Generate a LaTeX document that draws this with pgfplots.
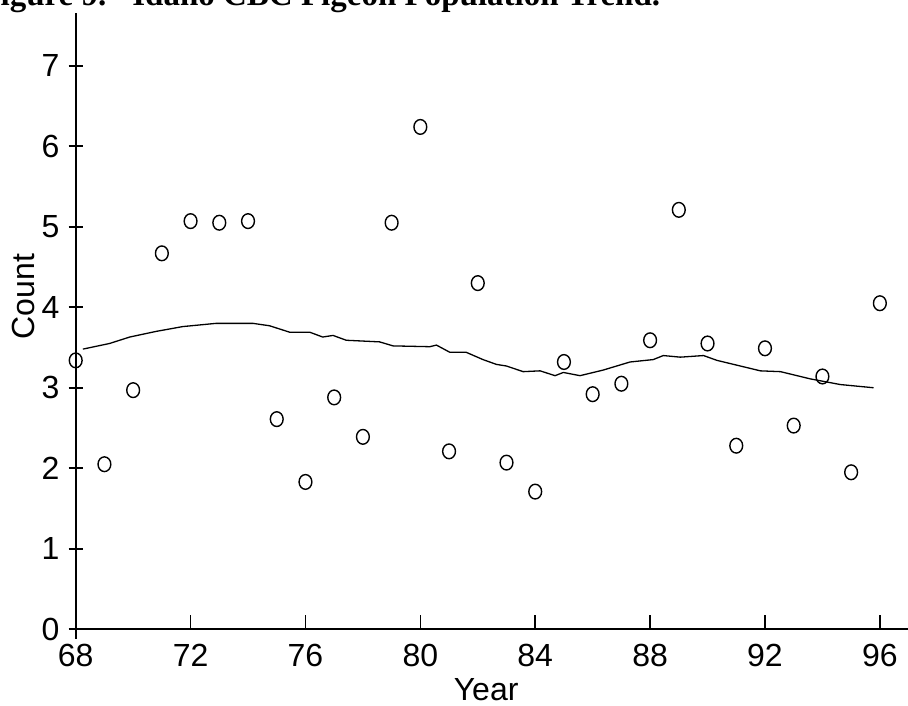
\documentclass[border=0pt]{standalone}
\usepackage{fontspec}
\setmainfont{Liberation Sans}
\newfontfamily\titlefont{Liberation Serif}
\usepackage{pgfplots}
\usepackage{pgfplotstable}
\pgfplotsset{compat=1.18}

% Christmas Bird Count: yearly pigeon counts
\pgfplotstableread{
year count
68 3.34
69 2.05
70 2.97
71 4.67
72 5.07
73 5.05
74 5.07
75 2.61
76 1.83
77 2.88
78 2.39
79 5.05
80 6.24
81 2.21
82 4.30
83 2.07
84 1.71
85 3.32
86 2.92
87 3.05
88 3.59
89 5.21
90 3.55
91 2.28
92 3.49
93 2.53
94 3.14
95 1.95
96 4.05
}\counts

% smoothed trend
\pgfplotstableread{
year trend
68.25 3.48
69.18 3.55
69.88 3.63
70.80 3.70
71.73 3.76
72.89 3.80
74.17 3.80
74.75 3.77
75.45 3.69
76.15 3.69
76.60 3.63
76.96 3.65
77.42 3.59
78.58 3.57
79.05 3.52
80.33 3.51
80.56 3.53
81.03 3.44
81.60 3.44
82.18 3.35
82.65 3.29
83.00 3.27
83.58 3.20
84.17 3.21
84.69 3.15
84.98 3.19
85.56 3.15
86.37 3.22
87.30 3.32
88.11 3.35
88.46 3.40
89.05 3.38
89.86 3.40
90.33 3.34
91.84 3.21
92.54 3.20
93.58 3.11
94.62 3.04
95.20 3.02
95.78 3.00
}\trend

\begin{document}
\begin{tikzpicture}
\begin{axis}[
  x=14.36pt, y=40.25pt,
  xmin=68, xmax=97, ymin=0, ymax=7.656,
  axis lines*=left,
  axis line style={line width=0.8pt, black},
  clip=false,
  xtick={68,72,...,96},
  ytick={0,1,...,7},
  xtick align=inside,
  ytick align=center,
  major tick length=7pt,
  tick style={line width=0.8pt, black},
  /pgf/number format/assume math mode=true,
  tick label style={font=\fontsize{16}{18}\selectfont, inner sep=0pt},
  xticklabel style={anchor=north, yshift=-7.5pt},
  yticklabel style={anchor=east, xshift=-4.5pt},
  label style={font=\fontsize{16}{18}\selectfont, inner sep=0pt},
  xlabel={Year},
  xlabel style={at={(axis cs:82.29,-0.887)}, anchor=base},
]
\addplot[only marks, mark=o, mark size=3.2pt,
  mark options={yscale=1.15, line width=0.7pt, black}] table[x=year, y=count] {\counts};
\addplot[black, line width=0.65pt] table[x=year, y=trend] {\trend};

% axis line continues a little below the origin
\draw[line width=0.8pt] (axis cs:68,0) -- (axis cs:68,-0.124);

% vertical axis title
\node[rotate=90, anchor=base, inner sep=0pt, font=\fontsize{16}{18}\selectfont]
  at (axis cs:66.55,4.134) {Count};

\coordinate (bl) at (axis cs:65.364,-0.9528);
\coordinate (tr) at (axis cs:96.98,7.817);
\coordinate (t1) at (axis cs:64.67,7.743);
\coordinate (t2) at (axis cs:69.96,7.743);
\end{axis}
\node[anchor=base west, inner sep=0pt, font=\titlefont\bfseries\fontsize{16.5}{18}\selectfont] at (t1) {Figure 9.};
\node[anchor=base west, inner sep=0pt, font=\titlefont\bfseries\fontsize{16.5}{18}\selectfont] at (t2) {Idaho CBC Pigeon Population Trend.};
\pgfresetboundingbox
\path[use as bounding box] (bl) rectangle (tr);
\end{tikzpicture}
\end{document}
